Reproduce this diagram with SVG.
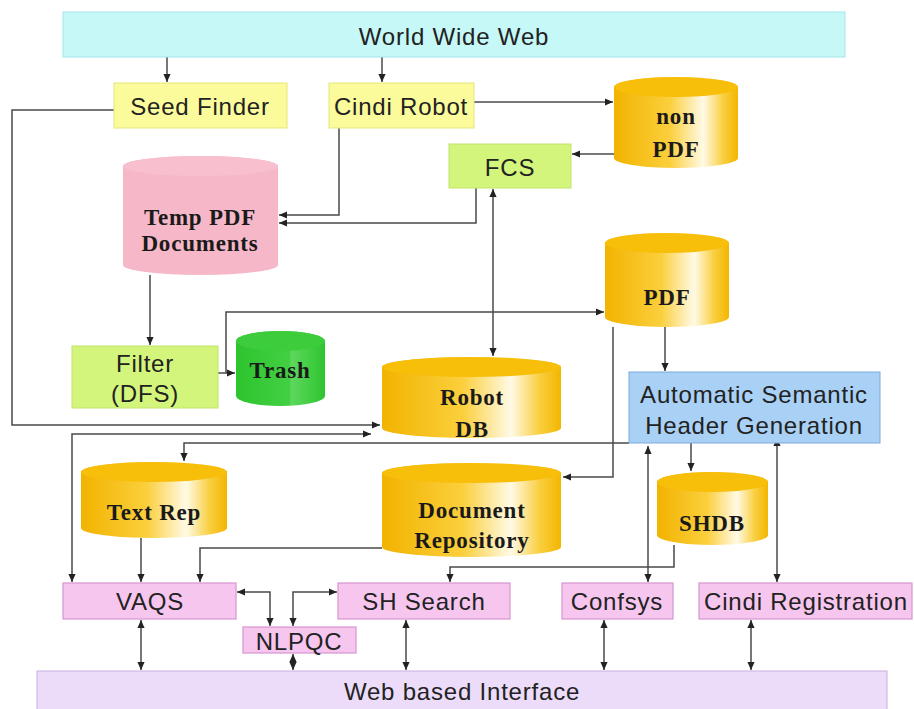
<svg xmlns="http://www.w3.org/2000/svg" width="914" height="709" viewBox="0 0 914 709">
<defs>
<linearGradient id="gold" x1="0" y1="0" x2="1" y2="0">
<stop offset="0" stop-color="#f2b300"/>
<stop offset="0.45" stop-color="#fbcf3c"/>
<stop offset="0.72" stop-color="#fffae6"/>
<stop offset="0.88" stop-color="#f9cf40"/>
<stop offset="1" stop-color="#f3b600"/>
</linearGradient>
<linearGradient id="green" x1="0" y1="0" x2="1" y2="0">
<stop offset="0" stop-color="#2ec42e"/>
<stop offset="0.6" stop-color="#42d042"/>
<stop offset="0.62" stop-color="#5ed85e"/>
<stop offset="1" stop-color="#2ec42e"/>
</linearGradient>
<marker id="arr" viewBox="0 0 10 10" refX="10" refY="5" markerWidth="8" markerHeight="8" markerUnits="userSpaceOnUse" orient="auto-start-reverse">
<path d="M0,0.5 L10,5 L0,9.5 z" fill="#222"/>
</marker>
</defs>
<style>
.sans{font-family:"Liberation Sans",Arial,sans-serif;font-size:24px;letter-spacing:0.8px;fill:#222;text-anchor:middle}
.serif{font-family:"Liberation Serif","Times New Roman",serif;font-size:23px;letter-spacing:0.8px;font-weight:bold;fill:#1a1a1a;text-anchor:middle}
.c{fill:none;stroke:#4a4a4a;stroke-width:1.5}
.e{marker-end:url(#arr)}
.b{marker-start:url(#arr);marker-end:url(#arr)}
.cylg{fill:url(#gold)}
.topg{fill:#f7be0a}
.yel{fill:#fbfb9c;stroke:#e6e67a;stroke-width:1}
.grn{fill:#d4f57c;stroke:#c0e468;stroke-width:1}
.pnk{fill:#f6c6ef;stroke:#d894d0;stroke-width:1.2}
</style>
<rect width="914" height="709" fill="#ffffff"/>

<g id="connectors">
<path class="c e" d="M167 57 V82"/>
<path class="c e" d="M382 57 V82"/>
<path class="c e" d="M114 110 H12 V425 H380"/>
<path class="c e" d="M339 128 V215 H279"/>
<path class="c e" d="M476 188 V223 H279"/>
<path class="c e" d="M474 102 H613"/>
<path class="c e" d="M614 154 H572"/>
<path class="c b" d="M493 189 V356"/>
<path class="c e" d="M150 275 V345"/>
<path class="c e" d="M218 373 H235"/>
<path class="c e" d="M226 373 V312 H604"/>
<path class="c e" d="M665 327 V371"/>
<path class="c e" d="M613 327 V477 H563"/>
<path class="c b" d="M371 434 H72 V582"/>
<path class="c e" d="M629 443 H184 V461"/>
<path class="c e" d="M141 538 V582"/>
<path class="c e" d="M382 548 H200 V582"/>
<path class="c b" d="M237 592 H270 V626"/>
<path class="c b" d="M293 626 V592 H337"/>
<path class="c b" d="M293 654 V670"/>
<path class="c b" d="M141 620 V670"/>
<path class="c b" d="M406 620 V670"/>
<path class="c e" d="M674 545 V567 H450 V582"/>
<path class="c e" d="M691 443 V471"/>
<path class="c b" d="M648 446 V582"/>
<path class="c b" d="M604 620 V670"/>
<path class="c b" d="M777 438 V582"/>
<path class="c b" d="M751 620 V670"/>
</g>

<g id="www">
<rect x="63" y="12" width="782" height="45" fill="#c6f8f8" stroke="#a4e6ec" stroke-width="1"/>
<text class="sans" x="454" y="45">World Wide Web</text>
</g>
<g id="seed-finder">
<rect class="yel" x="114" y="83" width="173" height="45"/>
<text class="sans" x="200" y="115">Seed Finder</text>
</g>
<g id="cindi-robot">
<rect class="yel" x="329" y="83" width="145" height="45"/>
<text class="sans" x="401" y="115">Cindi Robot</text>
</g>
<g id="non-pdf">
<path class="cylg" d="M614 87 A62 10 0 0 1 738 87 V158 A62 10 0 0 1 614 158 Z"/>
<ellipse class="topg" cx="676" cy="87" rx="62" ry="10"/>
<text class="serif" x="676" y="124">non</text>
<text class="serif" x="676" y="157">PDF</text>
</g>
<g id="fcs">
<rect class="grn" x="449" y="144" width="122" height="44"/>
<text class="sans" x="510" y="176">FCS</text>
</g>
<g id="temp-pdf">
<path d="M123 166 A77.5 10 0 0 1 278 166 V265 A77.5 10 0 0 1 123 265 Z" fill="#f6b8c8"/>
<ellipse cx="200.5" cy="166" rx="77.5" ry="10" fill="#f8c0ce"/>
<text class="serif" x="200" y="225" font-size="20" letter-spacing="0.5">Temp PDF</text>
<text class="serif" x="200" y="251" font-size="20" letter-spacing="0.5">Documents</text>
</g>
<g id="pdf">
<path class="cylg" d="M605 243 A62 10 0 0 1 729 243 V317 A62 10 0 0 1 605 317 Z"/>
<ellipse class="topg" cx="667" cy="243" rx="62" ry="10"/>
<text class="serif" x="667" y="305">PDF</text>
</g>
<g id="filter">
<rect class="grn" x="72" y="346" width="146" height="62"/>
<text class="sans" x="145" y="372">Filter</text>
<text class="sans" x="145" y="402">(DFS)</text>
</g>
<g id="trash">
<path d="M236 341 A44.5 10 0 0 1 325 341 V396 A44.5 10 0 0 1 236 396 Z" fill="url(#green)"/>
<ellipse cx="280.5" cy="341" rx="44.5" ry="10" fill="#3ccc3c"/>
<text class="serif" x="280" y="378">Trash</text>
</g>
<g id="robot-db">
<path class="cylg" d="M382 367 A89.5 10 0 0 1 561 367 V428 A89.5 10 0 0 1 382 428 Z"/>
<ellipse class="topg" cx="471.5" cy="367" rx="89.5" ry="10"/>
<text class="serif" x="472" y="405">Robot</text>
<text class="serif" x="472" y="437">DB</text>
</g>
<g id="ashg">
<rect x="629" y="372" width="251" height="71" fill="#a9d0f5" stroke="#7ea8dc" stroke-width="1"/>
<text class="sans" x="754" y="403">Automatic Semantic</text>
<text class="sans" x="754" y="434">Header Generation</text>
</g>
<g id="text-rep">
<path class="cylg" d="M81 472 A73 10 0 0 1 227 472 V528 A73 10 0 0 1 81 528 Z"/>
<ellipse class="topg" cx="154" cy="472" rx="73" ry="10"/>
<text class="serif" x="154" y="520">Text Rep</text>
</g>
<g id="document-repository">
<path class="cylg" d="M382 473 A89.5 10 0 0 1 561 473 V547 A89.5 10 0 0 1 382 547 Z"/>
<ellipse class="topg" cx="471.5" cy="473" rx="89.5" ry="10"/>
<text class="serif" x="472" y="518">Document</text>
<text class="serif" x="472" y="548">Repository</text>
</g>
<g id="shdb">
<path class="cylg" d="M657 482 A55.5 10 0 0 1 768 482 V535 A55.5 10 0 0 1 657 535 Z"/>
<ellipse class="topg" cx="712.5" cy="482" rx="55.5" ry="10"/>
<text class="serif" x="712" y="531">SHDB</text>
</g>
<g id="vaqs">
<rect class="pnk" x="63" y="583" width="173" height="36"/>
<text class="sans" x="150" y="610">VAQS</text>
</g>
<g id="nlpqc">
<rect class="pnk" x="243" y="627" width="113" height="26"/>
<text class="sans" x="299" y="650">NLPQC</text>
</g>
<g id="sh-search">
<rect class="pnk" x="338" y="583" width="172" height="36"/>
<text class="sans" x="424" y="610">SH Search</text>
</g>
<g id="confsys">
<rect class="pnk" x="562" y="583" width="111" height="36"/>
<text class="sans" x="617" y="610">Confsys</text>
</g>
<g id="cindi-registration">
<rect class="pnk" x="699" y="583" width="213" height="36"/>
<text class="sans" x="806" y="610">Cindi Registration</text>
</g>
<g id="web-interface">
<rect x="37" y="671" width="850" height="45" fill="#ecdcfa" stroke="#c8b0e0" stroke-width="1"/>
<text class="sans" x="462" y="700">Web based Interface</text>
</g>
</svg>
